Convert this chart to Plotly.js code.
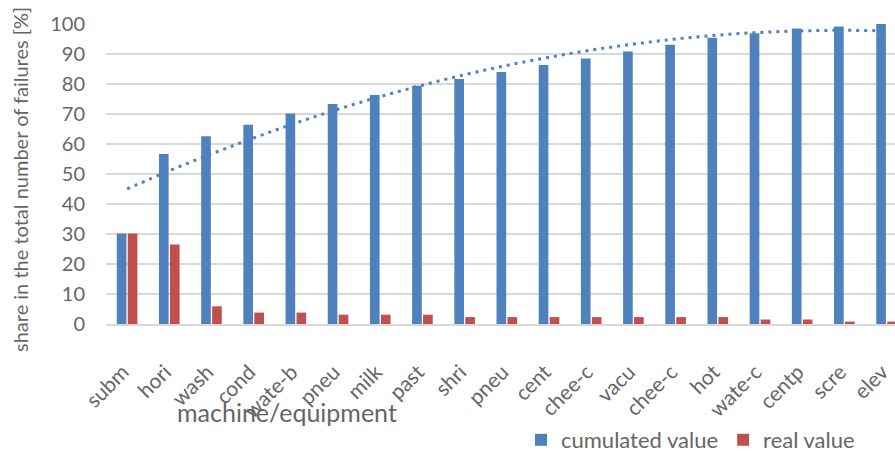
<!DOCTYPE html>
<html>
<head>
<meta charset="utf-8">
<script src="https://cdn.plot.ly/plotly-3.0.1.min.js"></script>
<style>
  html, body { margin: 0; padding: 0; background: #ffffff; }
  #chart { width: 895px; height: 454px; }
</style>
</head>
<body>
<div id="chart"></div>
<script>
// Categories (machine/equipment)
var categories = ["subm", "hori", "wash", "cond", "wate-b", "pneu", "milk", "past", "shri", "pneu",
                  "cent", "chee-c", "vacu", "chee-c", "hot", "wate-c", "centp", "scre", "elev"];

// Cumulated share [%]
var cumulatedValue = [30.2, 56.7, 62.6, 66.4, 70.2, 73.3, 76.3, 79.4, 81.7, 84.0,
                      86.3, 88.5, 90.8, 93.1, 95.4, 96.9, 98.5, 99.2, 100.0];

// Real share [%]
var realValue = [30.2, 26.5, 5.9, 3.8, 3.8, 3.1, 3.1, 3.1, 2.3, 2.3,
                 2.3, 2.3, 2.3, 2.3, 2.3, 1.5, 1.5, 0.8, 0.8];

// Trendline of the cumulated value
var trendValue = [45.0, 51.1, 56.7, 62.0, 67.0, 71.6, 75.8, 79.6, 83.1, 86.2,
                  88.9, 91.3, 93.3, 95.0, 96.3, 97.2, 97.7, 97.9, 97.7];

// Y-axis ticks
var yTicks = [0, 10, 20, 30, 40, 50, 60, 70, 80, 90, 100];

var xIdx = categories.map(function (c, i) { return i; });
// small visual nudge so rotated labels end at the group centre (as in the reference)
var LABEL_NUDGE = -0.1;
var xTickPos = xIdx.map(function (i) { return i + LABEL_NUDGE; });

var BLUE = "#4F81BD";
var RED = "#C0504D";
var TXT = "#666666";
var FONT = "Lato, 'Open Sans', sans-serif";

var traces = [
  {
    type: "bar",
    name: "cumulated value",
    x: xIdx,
    y: cumulatedValue,
    marker: { color: BLUE, line: { width: 0 } },
    hoverinfo: "skip"
  },
  {
    type: "bar",
    name: "real value",
    x: xIdx,
    y: realValue,
    marker: { color: RED, line: { width: 0 } },
    hoverinfo: "skip"
  },
  {
    type: "scatter",
    mode: "lines",
    name: "trend",
    x: xIdx,
    y: trendValue,
    line: { color: BLUE, width: 3, dash: "3px,5px", shape: "spline" },
    showlegend: false,
    hoverinfo: "skip"
  }
];

var PLOT_L = 106, PLOT_T = 24, PLOT_W = 789, PLOT_H = 300;
function px2paperX(px) { return (px - PLOT_L) / PLOT_W; }
function px2paperY(py) { return (PLOT_T + PLOT_H - py) / PLOT_H; }

var layout = {
  width: 895,
  height: 454,
  margin: { l: PLOT_L, r: 0, t: PLOT_T, b: 454 - PLOT_T - PLOT_H },
  paper_bgcolor: "#ffffff",
  plot_bgcolor: "#ffffff",
  font: { family: FONT, color: TXT, size: 20 },
  barmode: "group",
  bargap: 0.48,
  bargroupgap: 0.12,
  showlegend: true,
  legend: {
    orientation: "h",
    xref: "paper",
    yref: "container",
    x: px2paperX(521),
    xanchor: "left",
    y: 14 / 454,
    yanchor: "middle",
    font: { family: FONT, size: 22, color: TXT },
    bgcolor: "rgba(0,0,0,0)"
  },
  xaxis: {
    automargin: false,
    range: [-0.5, 18.2],
    tickmode: "array",
    tickvals: xTickPos,
    ticktext: categories,
    tickangle: -45,
    ticks: "",
    ticklabelstandoff: 26,
    ticklabeloverflow: "allow",
    tickfont: { family: FONT, size: 21, color: TXT },
    showgrid: false,
    zeroline: false,
    showline: true,
    linecolor: "#D9D9D9",
    linewidth: 1.5,
    fixedrange: true
  },
  yaxis: {
    automargin: false,
    range: [0, 100],
    tickmode: "array",
    tickvals: yTicks,
    ticktext: yTicks.map(String),
    ticks: "",
    ticklabelstandoff: 20,
    tickfont: { family: FONT, size: 20, color: TXT },
    showgrid: true,
    gridcolor: "#D9D9D9",
    gridwidth: 1.5,
    zeroline: false,
    showline: false,
    fixedrange: true
  },
  annotations: [
    {
      text: "machine/equipment",
      xref: "paper",
      yref: "paper",
      x: px2paperX(287),
      y: px2paperY(412),
      xanchor: "center",
      yanchor: "middle",
      showarrow: false,
      font: { family: FONT, size: 25, color: TXT }
    },
    {
      text: "share in the total number of failures [%]",
      xref: "paper",
      yref: "paper",
      x: px2paperX(20),
      y: px2paperY(180),
      xanchor: "center",
      yanchor: "middle",
      textangle: -90,
      showarrow: false,
      font: { family: FONT, size: 20, color: TXT }
    }
  ]
};

Plotly.newPlot("chart", traces, layout, { displayModeBar: false, staticPlot: true });
</script>
</body>
</html>
